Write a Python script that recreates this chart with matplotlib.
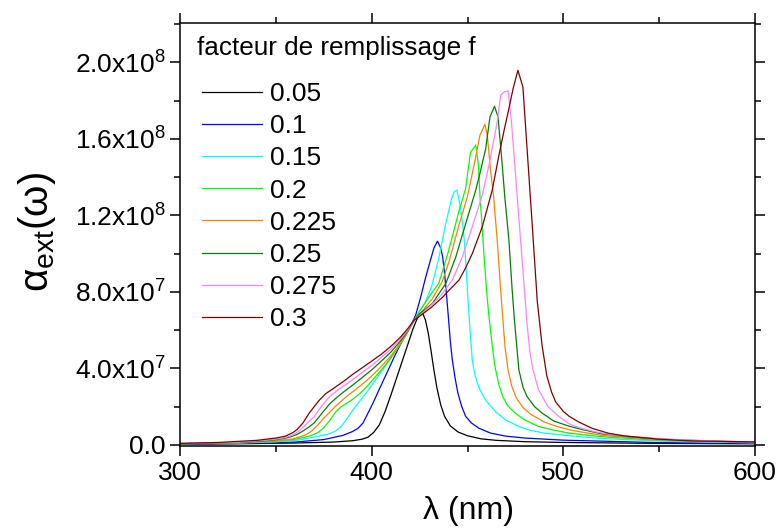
import numpy as np
import matplotlib
matplotlib.use('Agg')
import matplotlib.pyplot as plt
from matplotlib.ticker import FixedLocator, FixedFormatter, MultipleLocator

plt.rcParams['font.family'] = ['Liberation Sans', 'DejaVu Sans']
plt.rcParams['mathtext.fontset'] = 'custom'
plt.rcParams['mathtext.rm'] = 'Liberation Sans'
plt.rcParams['mathtext.it'] = 'Liberation Sans:italic'
plt.rcParams['mathtext.default'] = 'regular'

# extinction values are in units of 1e8
wl_005 = [300, 330, 360, 380, 390, 395, 398, 401, 404, 407, 410, 413, 416, 419, 421.5, 423.5, 425, 426.5,
          428, 429.5, 431, 432.5, 434, 436, 438, 441, 445, 450, 457, 465, 480, 500, 550, 600]
a_005 = [.004, .006, .010, .015, .022, .030, .040, .065, .105, .175, .260, .350, .440, .530, .605, .655, .680, .690,
         .655, .585, .490, .390, .300, .210, .150, .100, .068, .048, .032, .024, .017, .013, .008, .006]

wl_01 = [300, 330, 360, 375, 385, 390, 393, 395.5, 398, 400.5, 403, 406, 409, 412, 415, 418, 420.5, 423, 425.5,
         428, 430.5, 432.5, 434.3, 436, 437, 438, 439, 440, 441, 442, 443.5, 445, 447, 449, 452, 456, 462, 470,
         480, 500, 550, 600]
a_01 = [.005, .008, .015, .028, .050, .070, .088, .115, .165, .215, .270, .335, .400, .465, .525, .580, .625, .680, .770,
        .870, .960, 1.030, 1.065, 1.030, .985, .900, .790, .670, .545, .450, .350, .270, .200, .150, .115, .087, .062, .046,
        .036, .025, .012, .008]

wl_015 = [300, 330, 350, 362, 372, 378, 381, 384, 387, 390, 393.5, 397, 401, 405.5, 410, 414.5, 418.5, 422.2, 425,
          428, 431.5, 435, 438.5, 441.5, 443, 444.5, 446.2, 447.5, 448.5, 450, 451.3, 452.5, 454, 456, 458.5, 461,
          465, 470, 476, 482, 490, 503, 520, 550, 600]
a_015 = [.006, .010, .016, .026, .045, .058, .072, .095, .135, .180, .225, .270, .325, .390, .455, .522, .585, .650, .700,
         .745, .835, .975, 1.150, 1.280, 1.322, 1.332, 1.245, 1.150, 1.050, .800, .600, .440, .360, .300, .250, .215,
         .170, .130, .100, .078, .062, .048, .034, .020, .011]

wl_02 = [300, 330, 350, 360, 365, 368, 372, 375, 378, 381, 384, 387, 390, 393.5, 397, 401, 405.5, 410, 414.5, 418.5,
         422.2, 426, 430, 435, 440, 445.5, 449, 451.6, 453, 454.3, 455.7, 456.5, 457.3, 458.6, 460, 461, 462, 463,
         464.5, 466.5, 468.5, 471, 475, 480, 487, 495, 503, 520, 550, 600]
a_02 = [.006, .011, .019, .030, .040, .048, .065, .090, .125, .170, .200, .218, .238, .265, .300, .345, .398, .455, .520, .585,
        .653, .715, .775, .845, 1.010, 1.220, 1.340, 1.530, 1.548, 1.567, 1.462, 1.300, 1.190, .990, .800, .690, .600, .510,
        .400, .310, .250, .205, .165, .130, .097, .077, .062, .043, .024, .012]

wl_0225 = [300, 330, 350, 358, 362, 366, 369, 372, 375, 378, 381, 384, 388, 392, 396, 400, 405, 410, 414.5, 418.5,
           422.2, 426.4, 431.7, 436.9, 440.4, 445.6, 450, 453.4, 456.5, 459.1, 460.3, 462.1, 463.6, 465.5, 467.3,
           468.5, 469.5, 471, 473, 475.5, 479, 483, 490, 497, 505, 520, 550, 600]
a_0225 = [.007, .012, .022, .030, .040, .055, .075, .105, .140, .170, .200, .228, .262, .292, .325, .360, .410, .465, .525, .588,
          .653, .700, .765, .855, .960, 1.150, 1.300, 1.462, 1.619, 1.676, 1.619, 1.427, 1.300, 1.070, .810,
          .650, .520, .400, .310, .245, .195, .160, .120, .095, .075, .050, .027, .013]

wl_025 = [300, 330, 345, 352, 357, 361, 364, 367, 370, 374, 378, 382, 386, 390, 395, 400, 405, 410, 414.5, 418.5,
          422.2, 425, 431.7, 438.7, 443.9, 449.1, 454.3, 456.5, 459.5, 461.7, 464.1, 465.9, 467.7, 469.5, 471.6,
          473.3, 474.5, 476.8, 479, 481.1, 485, 489, 495, 503, 510, 520, 535, 550, 575, 600]
a_025 = [.007, .013, .022, .030, .040, .055, .072, .092, .115, .165, .214, .250, .282, .312, .352, .392, .438, .485, .537, .592,
         .653, .685, .740, .844, .983, 1.158, 1.332, 1.420, 1.549, 1.714, 1.770, 1.714, 1.514, 1.290, 1.070,
         .809, .650, .392, .300, .252, .200, .166, .125, .098, .080, .058, .043, .031, .021, .014]

wl_0275 = [300, 330, 345, 352, 357, 360, 363, 366, 370, 374, 378, 382, 386, 390, 395, 400, 405, 410, 414.5, 418.5,
           422.2, 428.3, 435.2, 442.1, 447.3, 452.5, 457.7, 461.2, 465.5, 467.3, 469.1, 471.2, 473, 475, 477,
           479, 481, 482.5, 484, 487, 492, 497.5, 503, 510, 517, 525, 540, 555, 575, 600]
a_0275 = [.008, .014, .025, .033, .045, .058, .080, .110, .148, .205, .252, .285, .312, .341, .378, .415, .457, .500, .548, .596,
          .653, .705, .770, .862, .983, 1.140, 1.305, 1.462, 1.688, 1.828, 1.845, 1.850, 1.680, 1.420, 1.160,
          .900, .640, .490, .400, .290, .200, .150, .110, .085, .068, .054, .040, .030, .022, .015]

wl_03 = [300, 320, 340, 350, 355, 359, 361, 364, 367.5, 372.5, 376, 380, 385, 390, 395, 400, 405, 410, 415, 419,
         422.2, 426, 431, 437, 441, 445.6, 449, 452.5, 457.7, 462.9, 466.4, 469, 471.6, 473.8, 476.3, 478.9, 481.4,
         483.9, 486.4, 488.9, 491.4, 493.9, 496, 500, 503, 508, 515, 523.6, 532, 550, 567, 600]
a_03 = [.008, .013, .024, .036, .046, .065, .080, .113, .168, .232, .268, .295, .330, .368, .403, .438, .474, .515, .563, .610,
        .653, .680, .718, .772, .815, .862, .925, 1.000, 1.140, 1.332, 1.514, 1.640, 1.758, 1.863, 1.958, 1.871, 1.500,
        1.130, .750, .520, .360, .275, .225, .175, .150, .120, .087, .061, .047, .030, .021, .016]

fill_labels = ['0.05', '0.1', '0.15', '0.2', '0.225', '0.25', '0.275', '0.3']
colors = ['#000000', '#0000ff', '#00ffff', '#00ff00', '#ff8000', '#008000', '#ff80ff', '#800000']
series = [(wl_005, a_005), (wl_01, a_01), (wl_015, a_015), (wl_02, a_02),
          (wl_0225, a_0225), (wl_025, a_025), (wl_0275, a_0275), (wl_03, a_03)]

ytick_vals = [0, 4e7, 8e7, 1.2e8, 1.6e8, 2.0e8]
ytick_labels = ['0.0', '4.0x10$^{7}$', '8.0x10$^{7}$', '1.2x10$^{8}$', '1.6x10$^{8}$', '2.0x10$^{8}$']
xtick_vals = [300, 400, 500, 600]

fig = plt.figure(figsize=(7.79, 5.29), dpi=100)
ax = fig.add_axes([0.2311, 0.156, 0.7381, 0.8005])

for (wl, a), c, lab in zip(series, colors, fill_labels):
    ax.plot(wl, np.array(a) * 1e8, color=c, lw=0.9, label=lab)

ax.set_xlim(300, 600)
ax.set_ylim(-0.008e8, 2.205e8)
ax.xaxis.set_major_locator(FixedLocator(xtick_vals))
ax.xaxis.set_minor_locator(MultipleLocator(50))
ax.yaxis.set_major_locator(FixedLocator(ytick_vals))
ax.yaxis.set_major_formatter(FixedFormatter(ytick_labels))
ax.yaxis.set_minor_locator(MultipleLocator(2e7))

ax.tick_params(which='both', direction='out', top=True, right=True, width=1.1, labelsize=19)
ax.tick_params(which='major', length=7.5, pad=3)
ax.tick_params(which='minor', length=4.5)
for sp in ax.spines.values():
    sp.set_linewidth(1.1)

ax.set_xlabel('λ (nm)', fontsize=23, va='center')
ax.xaxis.set_label_coords(0.501, -0.152)
ax.set_ylabel(r'$\alpha_{ext}(\omega)$', fontsize=29, va='center')
ax.yaxis.set_label_coords(-0.249, 0.506)

ax.text(0.0296, 0.9245, 'facteur de remplissage f', transform=ax.transAxes,
        fontsize=18.8, ha='left', va='baseline')
ax.legend(loc='upper left', bbox_to_anchor=(0.0383, 0.8607), frameon=False, borderpad=0,
          borderaxespad=0, fontsize=19, handlelength=2.27, handletextpad=0.3, labelspacing=0.31)

fig.savefig('out.png', dpi=100)
